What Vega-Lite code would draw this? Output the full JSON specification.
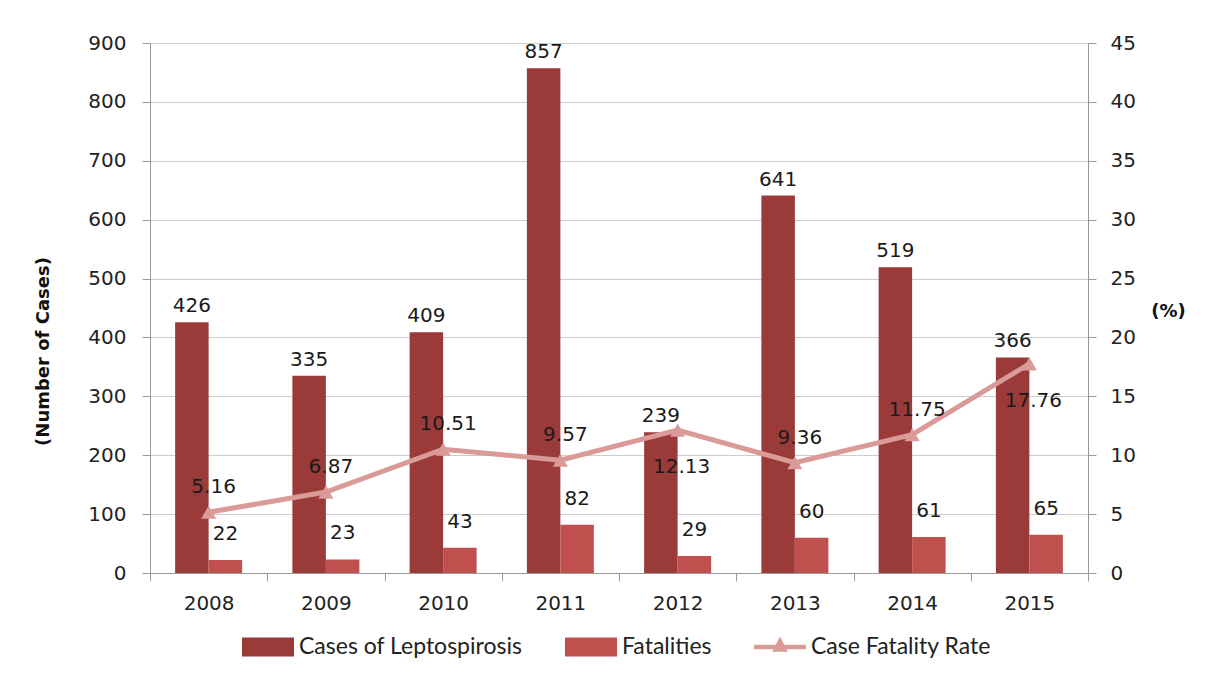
{
  "$schema": "https://vega.github.io/schema/vega-lite/v6.json",
  "width": 938,
  "height": 530,
  "autosize": {"type": "none"},
  "padding": {"left": 150, "top": 43, "right": 121, "bottom": 109},
  "background": "white",
  "config": {
    "view": {"stroke": null},
    "font": "DejaVu Sans",
    "text": {"font": "DejaVu Sans", "fontSize": 20, "color": "#1a1a1a"},
    "axis": {"labelFont": "DejaVu Sans", "labelFontSize": 20, "labelColor": "#222", "domainColor": "#999", "tickColor": "#999", "titleFont": "DejaVu Sans", "titleColor": "#111"}
  },
  "data": {
    "values": [
      {"year": "2008", "Cases of Leptospirosis": 426, "Fatalities": 22, "rate": 5.16},
      {"year": "2009", "Cases of Leptospirosis": 335, "Fatalities": 23, "rate": 6.87},
      {"year": "2010", "Cases of Leptospirosis": 409, "Fatalities": 43, "rate": 10.51},
      {"year": "2011", "Cases of Leptospirosis": 857, "Fatalities": 82, "rate": 9.57},
      {"year": "2012", "Cases of Leptospirosis": 239, "Fatalities": 29, "rate": 12.13},
      {"year": "2013", "Cases of Leptospirosis": 641, "Fatalities": 60, "rate": 9.36},
      {"year": "2014", "Cases of Leptospirosis": 519, "Fatalities": 61, "rate": 11.75},
      {"year": "2015", "Cases of Leptospirosis": 366, "Fatalities": 65, "rate": 17.76}
    ]
  },
  "encoding": {
    "x": {
      "field": "year", "type": "nominal",
      "scale": {"paddingInner": 0, "paddingOuter": 0},
      "axis": {"title": null, "tickBand": "extent", "labelAngle": 0, "labelPadding": 12, "tickSize": 8, "grid": false}
    }
  },
  "layer": [
    {
      "transform": [{"fold": ["Cases of Leptospirosis", "Fatalities"], "as": ["series", "value"]}],
      "encoding": {
        "xOffset": {"field": "series", "type": "nominal", "scale": {"domain": ["Cases of Leptospirosis", "Fatalities"], "paddingOuter": 0.75, "paddingInner": 0}},
        "y": {
          "field": "value", "type": "quantitative",
          "scale": {"domain": [0, 900], "nice": false},
          "axis": {
            "title": "(Number of Cases)", "values": [0, 100, 200, 300, 400, 500, 600, 700, 800, 900],
            "grid": true, "gridColor": "#CCCCCC", "tickSize": 8, "labelPadding": 16,
            "titleFontSize": 18, "titleFontWeight": "bold", "titleX": -107, "titleY": 308, "titleBaseline": "middle"
          }
        }
      },
      "layer": [
        {
          "mark": {"type": "bar"},
          "encoding": {
            "color": {
              "field": "series", "type": "nominal",
              "scale": {"domain": ["Cases of Leptospirosis", "Fatalities", "Case Fatality Rate"], "range": ["#9B3B39", "#C0504D", "#D99A98"]},
              "legend": {
                "orient": "none", "legendX": 92, "legendY": 578, "direction": "horizontal", "title": null,
                "symbolSize": 2704, "labelFont": "Lato", "labelFontSize": 23, "labelColor": "#222", "labelOffset": 5, "labelLimit": 500, "columnPadding": 42,
                "encode": {
                  "symbols": {
                    "update": {
                      "shape": {"signal": "datum.value === 'Case Fatality Rate' ? 'M-1,-0.09H1V0.09H-1Z M0,-0.4L0.3,0.18L-0.3,0.18Z' : 'M-1,-0.365H1V0.365H-1Z'"},
                      "fill": {"scale": "color", "field": "value"},
                      "strokeWidth": {"value": 0},
                      "opacity": {"value": 1}
                    }
                  }
                }
              }
            }
          }
        },
        {
          "transform": [{"filter": "datum.series === 'Cases of Leptospirosis'"}],
          "mark": {"type": "text", "dy": -16, "baseline": "middle"},
          "encoding": {"text": {"field": "value", "type": "quantitative"}}
        },
        {
          "transform": [{"filter": "datum.series === 'Fatalities'"}],
          "mark": {"type": "text", "dy": -26, "baseline": "middle"},
          "encoding": {"text": {"field": "value", "type": "quantitative"}}
        }
      ]
    },
    {
      "encoding": {
        "y": {
          "field": "rate", "type": "quantitative",
          "scale": {"domain": [0, 45], "nice": false},
          "axis": {
            "orient": "right", "title": "(%)", "values": [0, 5, 10, 15, 20, 25, 30, 35, 40, 45],
            "grid": false, "tickSize": 8, "labelPadding": 14,
            "titleFontSize": 18, "titleFontWeight": "bold", "titleAngle": 0, "titleX": 80, "titleY": 268,
            "titleBaseline": "middle", "titleAlign": "center"
          }
        }
      },
      "layer": [
        {
          "mark": {"type": "line", "strokeWidth": 5},
          "encoding": {"color": {"datum": "Case Fatality Rate"}}
        },
        {
          "mark": {"type": "point", "shape": "triangle-up", "filled": true, "size": 230, "opacity": 1},
          "encoding": {"color": {"datum": "Case Fatality Rate"}}
        },
        {
          "transform": [{"filter": "datum.year !== '2012' && datum.year !== '2015'"}],
          "mark": {"type": "text", "dy": -25, "dx": 5, "baseline": "middle"},
          "encoding": {"text": {"field": "rate", "type": "quantitative", "format": ".2f"}}
        },
        {
          "transform": [{"filter": "datum.year === '2012' || datum.year === '2015'"}],
          "mark": {"type": "text", "dy": 37, "dx": 4, "baseline": "middle"},
          "encoding": {"text": {"field": "rate", "type": "quantitative", "format": ".2f"}}
        }
      ]
    }
  ],
  "resolve": {"scale": {"y": "independent"}}
}
